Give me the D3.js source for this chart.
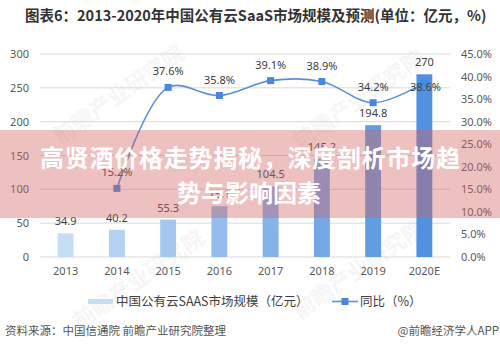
<!DOCTYPE html>
<html><head><meta charset="utf-8">
<script src="https://cdn.jsdelivr.net/npm/d3@7"></script>
<style>body{margin:0;background:#fff}svg{display:block}text{font-family:"Noto Sans CJK SC","Noto Sans",sans-serif}</style>
</head><body><svg id="c" width="500" height="350"></svg>
<script>
const years = ["2013","2014","2015","2016","2017","2018","2019","2020E"];
const marketSize = [34.9, 40.2, 55.3, 75.1, 104.5, 145.2, 194.8, 270];
const growthYears = ["2014","2015","2016","2017","2018","2019","2020E"];
const growth = [15.2, 37.6, 35.8, 39.1, 38.9, 34.2, 38.6];
const leftTicks = [0, 50, 100, 150, 200, 250, 300];
const rightTicks = [0, 5, 10, 15, 20, 25, 30, 35, 40, 45];

const svg = d3.select("#c");
const m = {l: 40, r: 450, t: 54, b: 257};
const x = d3.scaleBand().domain(years).range([m.l, m.r]).paddingInner(0.69).paddingOuter(0.345);
const yL = d3.scaleLinear().domain([0, 300]).range([m.b, m.t]);
const yR = d3.scaleLinear().domain([0, 45]).range([m.b, m.t]);
const cx = d => x(d) + x.bandwidth() / 2;
const barColor = d3.scaleLinear().domain([0, years.length - 1]).range(["#c6ddf6", "#5291df"]);

// title
svg.append("text").attr("x", 25).attr("y", 21).attr("font-size", 14.5).attr("font-weight", "bold")
  .attr("fill", "#333").text("图表6：2013-2020年中国公有云SaaS市场规模及预测(单位：亿元，%)");

// watermarks
const wm = svg.append("g").attr("fill", "#e6e6e6").attr("font-size", 22).attr("font-weight", "bold");
[[60,145],[300,150],[80,330],[300,320]].forEach(([a,b]) => {
  wm.append("text").attr("transform", `translate(${a},${b}) rotate(-35)`).attr("opacity", 0.35).text("前瞻产业研究院");
});

// gridlines
svg.append("g").selectAll("line").data(leftTicks).join("line")
  .attr("x1", m.l).attr("x2", m.r).attr("y1", d => yL(d)).attr("y2", d => yL(d))
  .attr("stroke", "#d9d9d9").attr("stroke-width", 1);

// left axis
const gl = svg.append("g").attr("transform", `translate(${m.l},0)`)
  .call(d3.axisLeft(yL).tickValues(leftTicks).tickSize(0).tickPadding(11));
gl.select(".domain").remove();
gl.selectAll("text").attr("font-size", 11).attr("fill", "#595959").style("font-family", "'Noto Sans','DejaVu Sans',sans-serif");

// right axis
const gr = svg.append("g").attr("transform", `translate(${m.r},0)`)
  .call(d3.axisRight(yR).tickValues(rightTicks).tickSize(0).tickPadding(11).tickFormat(d => d.toFixed(1) + "%"));
gr.select(".domain").remove();
gr.selectAll("text").attr("font-size", 11).attr("fill", "#595959").style("font-family", "'Noto Sans','DejaVu Sans',sans-serif");

// x axis
const gx = svg.append("g").attr("transform", `translate(0,${m.b})`)
  .call(d3.axisBottom(x).tickSize(0).tickPadding(10));
gx.select(".domain").remove();
gx.selectAll("text").attr("font-size", 11).attr("fill", "#595959").style("font-family", "'Noto Sans','DejaVu Sans',sans-serif");

// bars
svg.append("g").selectAll("rect").data(marketSize).join("rect")
  .attr("x", (d, i) => x(years[i])).attr("width", x.bandwidth())
  .attr("y", d => yL(d)).attr("height", d => yL(0) - yL(d))
  .attr("fill", (d, i) => barColor(i));

// bar labels
svg.append("g").selectAll("text").data(marketSize).join("text")
  .attr("x", (d, i) => cx(years[i])).attr("y", d => yL(d) - 8)
  .attr("text-anchor", "middle").attr("font-size", 11).attr("fill", "#404040")
  .style("font-family", "'Noto Sans','DejaVu Sans',sans-serif").text(d => d);

// line
const line = d3.line().x((d, i) => cx(growthYears[i])).y(d => yR(d)).curve(d3.curveCatmullRom.alpha(0.5));
svg.append("path").datum(growth).attr("d", line).attr("fill", "none").attr("stroke", "#5b8fd9").attr("stroke-width", 1.6);
svg.append("g").selectAll("rect").data(growth).join("rect")
  .attr("x", (d, i) => cx(growthYears[i]) - 3.5).attr("y", d => yR(d) - 3.5)
  .attr("width", 7).attr("height", 7).attr("fill", "#4a86e0");
const lineLabelOffset = [-12,-12,-12,-12,-12,-12,8];
svg.append("g").selectAll("text").data(growth).join("text")
  .attr("x", (d, i) => cx(growthYears[i]) + (i === 6 ? 1 : 0)).attr("y", (d, i) => yR(d) + lineLabelOffset[i])
  .attr("text-anchor", "middle").attr("font-size", 11).attr("fill", "#404040")
  .style("font-family", "'Noto Sans','DejaVu Sans',sans-serif").text(d => d.toFixed(1) + "%");

// legend
const lg = svg.append("g");
lg.append("rect").attr("x", 88).attr("y", 299).attr("width", 25).attr("height", 5).attr("fill", "#c6ddf6");
lg.append("text").attr("x", 116).attr("y", 306).attr("font-size", 12.5).attr("fill", "#404040").text("中国公有云SAAS市场规模（亿元）");
lg.append("line").attr("x1", 332).attr("x2", 358).attr("y1", 301.5).attr("y2", 301.5).attr("stroke", "#5b8fd9").attr("stroke-width", 1.6);
lg.append("rect").attr("x", 341.5).attr("y", 298).attr("width", 7).attr("height", 7).attr("fill", "#4a86e0");
lg.append("text").attr("x", 360).attr("y", 306).attr("font-size", 12.5).attr("fill", "#404040").text("同比（%）");

// footer
svg.append("text").attr("x", 5).attr("y", 335).attr("font-size", 11.5).attr("fill", "#555").text("资料来源：中国信通院 前瞻产业研究院整理");
svg.append("text").attr("x", 499).attr("y", 335).attr("text-anchor", "end").attr("font-size", 11.5).attr("fill", "#555").text("@前瞻经济学人APP");

// overlay banner
svg.append("rect").attr("x", 0).attr("y", 130).attr("width", 500).attr("height", 88)
  .attr("fill", "rgb(212,100,100)").attr("opacity", 0.4);
const bt = svg.append("g").attr("fill", "#fff").attr("font-size", 24).attr("font-weight", "bold").attr("text-anchor", "middle");
bt.append("text").attr("x", 250).attr("y", 167).attr("textLength", 420).attr("lengthAdjust", "spacing").text("高贤酒价格走势揭秘，深度剖析市场趋");
bt.append("text").attr("x", 249).attr("y", 202).text("势与影响因素");
</script></body></html>
